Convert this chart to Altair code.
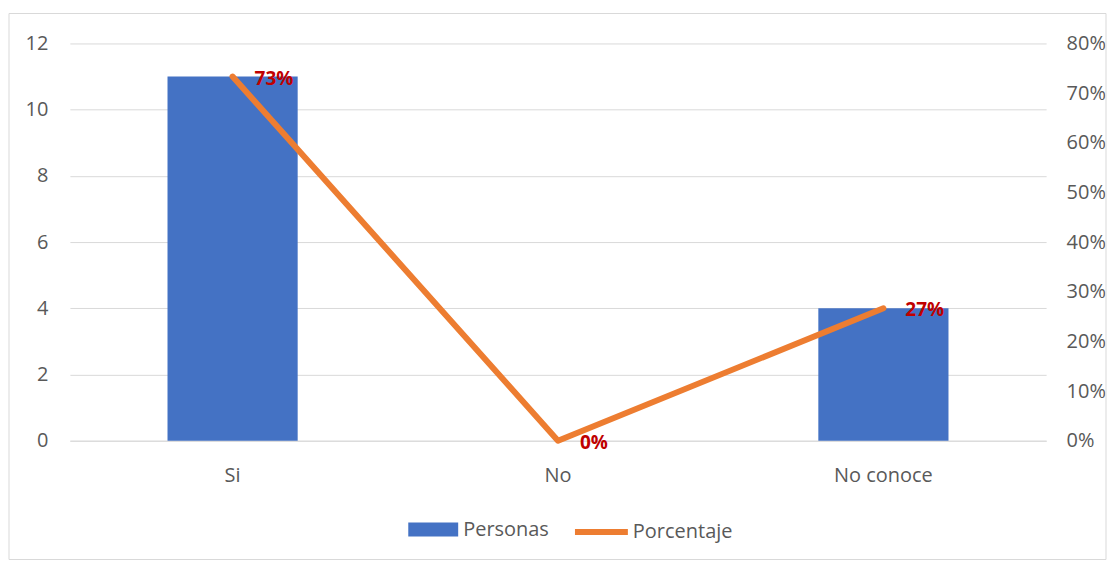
import altair as alt
import pandas as pd

categorias = ["Si", "No", "No conoce"]
personas = [11, 0, 4]
porcentaje = [0.7333, 0.0, 0.2667]
etiquetas = ["73%", "0%", "27%"]

df = pd.DataFrame({
    "cat": categorias,
    "personas": personas,
    "pct": porcentaje,
    "lbl": etiquetas,
})

W, H = 978, 398
FONT = "Open Sans"
GRAY = "#595959"
FS = 20

xenc = alt.X("cat:N", sort=categorias, title=None,
             scale=alt.Scale(paddingInner=0.6, paddingOuter=0.3),
             axis=alt.Axis(labelAngle=0, ticks=False, domain=True, domainColor="#D9D9D9",
                           labelPadding=25, labelFontSize=FS, labelColor=GRAY, labelFont=FONT))

base = alt.Chart(df)

bars = base.transform_calculate(serie="'Personas'").mark_bar(color="#4472C4").encode(
    x=xenc,
    y=alt.Y("personas:Q", title=None,
            scale=alt.Scale(domain=[0, 12], nice=False),
            axis=alt.Axis(values=[0, 2, 4, 6, 8, 10, 12], grid=True, gridColor="#D9D9D9",
                          domain=False, ticks=False, labelPadding=22, labelFontSize=FS,
                          labelColor=GRAY, labelFont=FONT)),
    fill=alt.Fill("serie:N", scale=alt.Scale(domain=["Personas"], range=["#4472C4"]),
                  legend=alt.Legend(title=None, orient="none", legendX=338, legendY=461,
                                    symbolType="M-1,-0.28H1V0.28H-1Z", symbolSize=2500,
                                    labelFontSize=FS, labelColor=GRAY, labelFont=FONT,
                                    labelOffset=4, padding=0)),
)

yright = alt.Y("pct:Q", title=None,
               scale=alt.Scale(domain=[0, 0.8], nice=False),
               axis=alt.Axis(orient="right", values=[0, 0.1, 0.2, 0.3, 0.4, 0.5, 0.6, 0.7, 0.8],
                             format=".0%", grid=False, domain=False, ticks=False,
                             labelPadding=20, labelFontSize=FS, labelColor=GRAY, labelFont=FONT))

line = base.transform_calculate(serie="'Porcentaje'").mark_line(
    strokeWidth=6, strokeCap="round", strokeJoin="round").encode(
    x=alt.X("cat:N", sort=categorias),
    y=yright,
    stroke=alt.Stroke("serie:N", scale=alt.Scale(domain=["Porcentaje"], range=["#ED7D31"]),
                      legend=alt.Legend(title=None, orient="none", legendX=503, legendY=460,
                                        symbolType="M-1,0H1", symbolSize=2809,
                                        symbolStrokeWidth=6,
                                        labelFontSize=FS, labelColor=GRAY, labelFont=FONT,
                                        labelOffset=2, padding=0)),
)

text = base.mark_text(align="left", baseline="middle", dx=22, dy=2,
                      fontSize=19, fontWeight="bold", color="#C00000", font=FONT).encode(
    x=alt.X("cat:N", sort=categorias),
    y=yright,
    text="lbl:N",
)

frame = alt.Chart(pd.DataFrame({"a": [0]})).mark_rect(
    fill="transparent", stroke="#D9D9D9", strokeWidth=1).encode(
    x=alt.value(-61), x2=alt.value(W + 60), y=alt.value(-30), y2=alt.value(H + 119))

right = alt.layer(line, text)
chart = alt.layer(frame, bars, right).resolve_scale(
    y="independent", fill="independent", stroke="independent"
).properties(
    width=W, height=H,
    padding={"left": 0, "top": 4, "right": 0, "bottom": 0},
).configure_view(stroke=None)

chart.save("out.html", embed_options={"renderer": "svg", "actions": False})
